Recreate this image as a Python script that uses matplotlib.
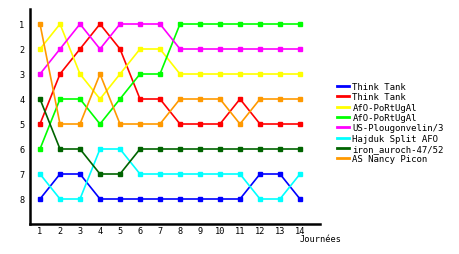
import matplotlib.pyplot as plt

days = list(range(1, 15))
teams = ["Think Tank", "Think Tank", "AfO-PoRtUgAl", "AfO-PoRtUgAl",
         "US-Plougonvelin/3", "Hajduk Split AFO", "iron_auroch-47/52",
         "AS Nancy Picon"]
colors = ["#0000ff", "#ff0000", "#ffff00", "#00ff00", "#ff00ff", "#00ffff",
          "#006400", "#ff9900"]

blue = [8, 7, 7, 8, 8, 8, 8, 8, 8, 8, 8, 7, 7, 8]
red = [5, 3, 2, 1, 2, 4, 4, 5, 5, 5, 4, 5, 5, 5]
yellow = [2, 1, 3, 4, 3, 2, 2, 3, 3, 3, 3, 3, 3, 3]
lime = [6, 4, 4, 5, 4, 3, 3, 1, 1, 1, 1, 1, 1, 1]
magenta = [3, 2, 1, 2, 1, 1, 1, 2, 2, 2, 2, 2, 2, 2]
cyan = [7, 8, 8, 6, 6, 7, 7, 7, 7, 7, 7, 8, 8, 7]
darkgreen = [4, 6, 6, 7, 7, 6, 6, 6, 6, 6, 6, 6, 6, 6]
orange = [1, 5, 5, 3, 5, 5, 5, 4, 4, 4, 5, 4, 4, 4]
series = [blue, red, yellow, lime, magenta, cyan, darkgreen, orange]

fig = plt.figure(figsize=(4.6, 2.55), dpi=100)
ax = fig.add_axes([30 / 460, 30 / 255, 290 / 460, 215 / 255])

for name, col, vals in zip(teams, colors, series):
    ax.plot(days, vals, color=col, linewidth=1.2, marker="s", markersize=2.6,
            label=name)

ax.set_xlim(0.5, 15)
ax.set_ylim(9, 0.4)
ax.set_xticks(days)
ax.set_yticks(range(1, 9))
ax.tick_params(length=0, labelsize=6.2)
ax.tick_params(axis="x", pad=1.5)
ax.tick_params(axis="y", pad=4)
for lab in ax.get_xticklabels() + ax.get_yticklabels():
    lab.set_family("DejaVu Sans Mono")
for side in ["top", "right"]:
    ax.spines[side].set_visible(False)
for side in ["left", "bottom"]:
    ax.spines[side].set_linewidth(1.8)

fig.text(300 / 460, 1 - 240 / 255, "Journées", ha="left", va="center",
         fontsize=6.2, family="DejaVu Sans Mono")

leg = fig.legend(loc="upper left", bbox_to_anchor=(337 / 460, 1 - 83 / 255),
                 frameon=False, prop={"family": "DejaVu Sans Mono", "size": 6.5},
                 handlelength=1.3, handletextpad=0.4, labelspacing=0.15,
                 borderaxespad=0, borderpad=0)
for line in leg.get_lines():
    line.set_marker("")
    line.set_linewidth(2)

fig.savefig("out.png", dpi=100)
